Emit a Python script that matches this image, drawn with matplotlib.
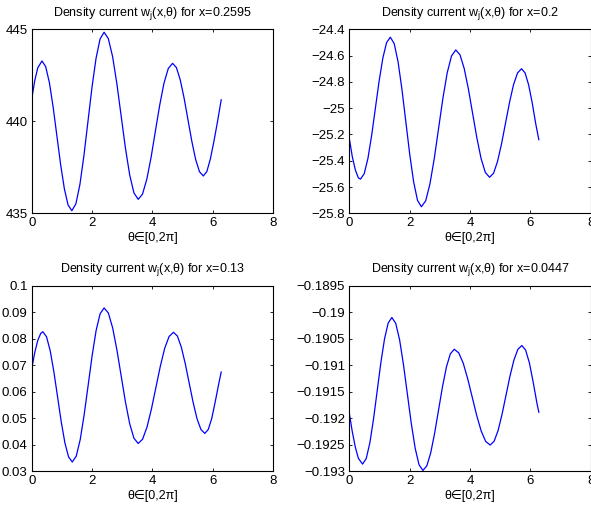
import matplotlib
matplotlib.use("Agg")
import matplotlib.pyplot as plt
from matplotlib.ticker import MultipleLocator, FuncFormatter

# values, theta in [0, 2*pi]
theta_a = [0, 0.1, 0.2, 0.34, 0.464, 0.588, 0.711, 0.835, 0.959, 1.083, 1.206,
           1.33, 1.464, 1.598, 1.731, 1.865, 1.999, 2.133, 2.266, 2.40, 2.541,
           2.683, 2.824, 2.965, 3.106, 3.248, 3.389, 3.53, 3.673, 3.815, 3.958,
           4.10, 4.243, 4.385, 4.528, 4.67, 4.798, 4.925, 5.053, 5.18, 5.308,
           5.435, 5.563, 5.69, 5.807, 5.923, 6.04, 6.157, 6.283]
w_a = [441.2, 442.2, 442.9, 443.28, 442.97, 442.09, 440.77, 439.21, 437.65,
       436.33, 435.45, 435.14, 435.51, 436.56, 438.13, 439.99, 441.85, 443.42,
       444.47, 444.84, 444.49, 443.51, 442.04, 440.30, 438.56, 437.09, 436.11,
       435.76, 436.04, 436.84, 438.04, 439.46, 440.87, 442.07, 442.87, 443.15,
       442.92, 442.25, 441.26, 440.09, 438.92, 437.93, 437.26, 437.03, 437.27,
       437.95, 438.9, 439.95, 441.17]

theta_b = [0, 0.1, 0.2, 0.3, 0.37, 0.494, 0.618, 0.741, 0.865, 0.989, 1.113,
           1.236, 1.36, 1.489, 1.618, 1.746, 1.875, 2.004, 2.133, 2.261, 2.39,
           2.533, 2.675, 2.818, 2.96, 3.103, 3.245, 3.388, 3.53, 3.67, 3.81,
           3.95, 4.09, 4.23, 4.37, 4.51, 4.65, 4.783, 4.915, 5.048, 5.18, 5.313,
           5.445, 5.578, 5.71, 5.828, 5.946, 6.064, 6.182, 6.283]
w_b = [-25.23, -25.37, -25.47, -25.53, -25.54, -25.499, -25.382, -25.207,
       -25.00, -24.793, -24.618, -24.501, -24.46, -24.509, -24.649, -24.858,
       -25.105, -25.352, -25.561, -25.701, -25.75, -25.705, -25.575, -25.382,
       -25.154, -24.925, -24.732, -24.603, -24.557, -24.594, -24.699, -24.856,
       -25.042, -25.227, -25.384, -25.489, -25.526, -25.495, -25.405, -25.271,
       -25.113, -24.955, -24.821, -24.732, -24.70, -24.732, -24.823, -24.959,
       -25.12, -25.24]

theta_c = [0, 0.1, 0.2, 0.3, 0.37, 0.492, 0.614, 0.736, 0.858, 0.979, 1.101,
           1.223, 1.345, 1.477, 1.609, 1.741, 1.873, 2.004, 2.136, 2.268, 2.40,
           2.541, 2.683, 2.824, 2.965, 3.106, 3.248, 3.389, 3.53, 3.676, 3.823,
           3.969, 4.115, 4.261, 4.408, 4.554, 4.70, 4.83, 4.96, 5.09, 5.22,
           5.35, 5.48, 5.61, 5.74, 5.854, 5.968, 6.082, 6.197, 6.283]
w_c = [0.0685, 0.0747, 0.0793, 0.0820, 0.0826, 0.0807, 0.0754, 0.0674, 0.0580,
       0.0486, 0.0406, 0.0353, 0.0334, 0.0356, 0.0419, 0.0514, 0.0625, 0.0736,
       0.0831, 0.0894, 0.0916, 0.0897, 0.0841, 0.0758, 0.0660, 0.0562, 0.0479,
       0.0424, 0.0404, 0.0420, 0.0466, 0.0534, 0.0614, 0.0694, 0.0763, 0.0808,
       0.0824, 0.0810, 0.0768, 0.0706, 0.0633, 0.0560, 0.0498, 0.0457, 0.0442,
       0.0457, 0.0498, 0.0560, 0.0627, 0.0674]

theta_d = [0, 0.1, 0.2, 0.3, 0.44, 0.561, 0.683, 0.804, 0.925, 1.046, 1.168,
           1.289, 1.41, 1.539, 1.668, 1.796, 1.925, 2.054, 2.183, 2.311, 2.44,
           2.57, 2.70, 2.83, 2.96, 3.09, 3.22, 3.35, 3.48, 3.629, 3.778, 3.926,
           4.075, 4.224, 4.373, 4.521, 4.67, 4.801, 4.933, 5.064, 5.195, 5.326,
           5.458, 5.589, 5.72, 5.845, 5.971, 6.096, 6.221, 6.283]
w_d = [-0.19191, -0.19226, -0.19255, -0.19276, -0.19287, -0.192765, -0.192465,
       -0.192015, -0.191485, -0.190955, -0.190505, -0.190205, -0.19010,
       -0.19021, -0.190523, -0.190992, -0.191545, -0.192098, -0.192567,
       -0.19288, -0.19299, -0.192903, -0.192655, -0.192283, -0.191845,
       -0.191407, -0.191035, -0.190787, -0.19070, -0.190769, -0.190965,
       -0.191259, -0.191605, -0.191951, -0.192245, -0.192441, -0.19251,
       -0.192438, -0.192235, -0.19193, -0.19157, -0.19121, -0.190905,
       -0.190702, -0.19063, -0.190715, -0.190958, -0.191321, -0.19172,
       -0.19189]

x_values = ["0.2595", "0.2", "0.13", "0.0447"]
y_limits = [(435, 445), (-25.8, -24.4), (0.03, 0.1), (-0.193, -0.1895)]
y_steps = [5, 0.2, 0.01, 0.0005]

plt.rcParams['font.family'] = ['Liberation Sans', 'DejaVu Sans']
plt.rcParams['mathtext.fontset'] = 'custom'
plt.rcParams['mathtext.rm'] = 'Liberation Sans'

W, H = 591, 508
fig = plt.figure(figsize=(W / 100, H / 100), dpi=100)

# axes boxes in pixels: left, top, right, bottom
boxes = [(31.7, 29.3, 273.0, 213.3),
         (349.3, 29.3, 590.6, 213.3),
         (31.7, 285.7, 273.0, 471.0),
         (349.3, 285.7, 590.6, 471.0)]


def matlab_fmt(v, pos):
    s = '%g' % round(v, 6)
    return s.replace('-', '\u2212')


def draw_panel(box, theta, w, xval, ylim, ystep):
    l, t, r, b = box
    ax = fig.add_axes([l / W, 1 - b / H, (r - l) / W, (b - t) / H])
    ax.plot(theta, w, color='#0000ff', lw=0.9)
    ax.set_xlim(0, 8)
    ax.set_ylim(*ylim)
    ax.xaxis.set_major_locator(MultipleLocator(2))
    ax.yaxis.set_major_locator(MultipleLocator(ystep))
    ax.yaxis.set_major_formatter(FuncFormatter(matlab_fmt))
    ax.xaxis.set_major_formatter(FuncFormatter(matlab_fmt))
    ax.tick_params(direction='in', length=2.5, width=0.6, labelsize=9.5,
                   top=True, right=True, pad=3, colors='black')
    for sp in ax.spines.values():
        sp.set_linewidth(0.8)
    ax.set_title('Density current w$_{\\mathregular{j}}$(x,\u03b8) for x=' + xval,
                 fontsize=9, pad=10)
    ax.set_xlabel('\u03b8\u2208[0,2\u03c0]', fontsize=9, labelpad=2)
    return ax


series = [(theta_a, w_a), (theta_b, w_b), (theta_c, w_c), (theta_d, w_d)]
for i, (th, w) in enumerate(series):
    draw_panel(boxes[i], th, w, x_values[i], y_limits[i], y_steps[i])

fig.savefig('out.png', dpi=100, facecolor='white')
